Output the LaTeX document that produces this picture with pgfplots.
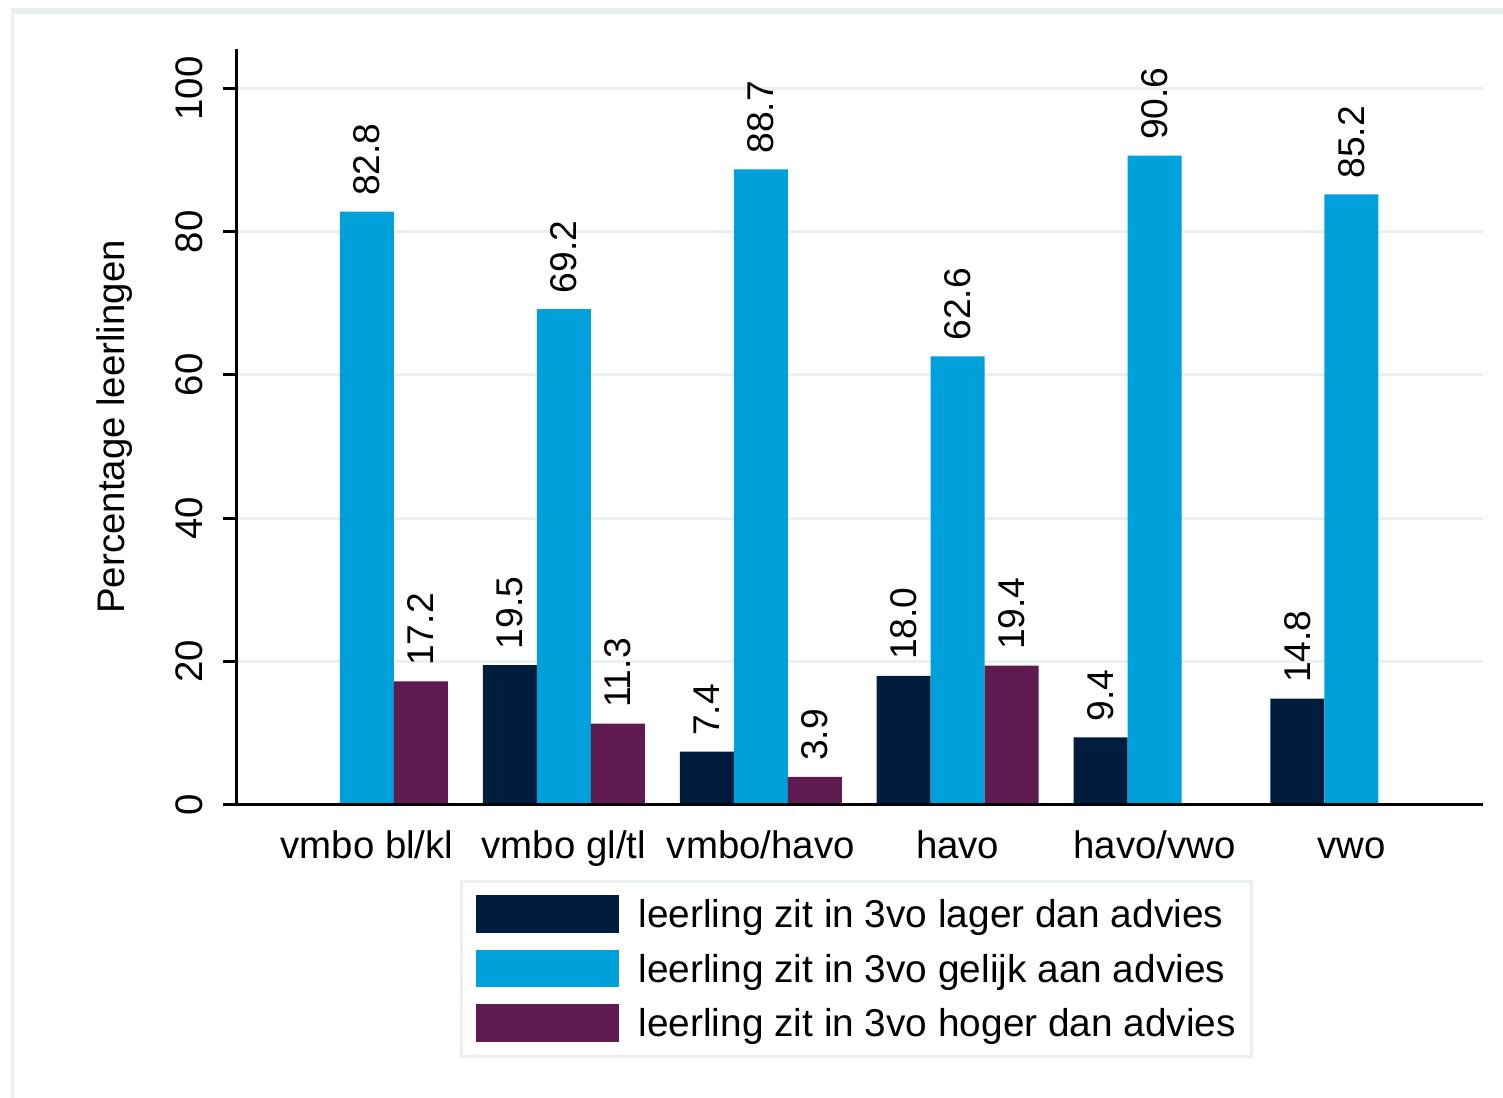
\documentclass[border=0pt]{standalone}
\usepackage{fontspec}
\setmainfont{Liberation Sans}
\usepackage{pgfplots}
\pgfplotsset{compat=1.18}
\definecolor{cdark}{HTML}{001D3D}
\definecolor{cblue}{HTML}{00A0DA}
\definecolor{cpurp}{HTML}{5F1A4F}
\definecolor{cgrid}{HTML}{EAF0F2}
\newcommand{\ff}{\fontsize{9.6}{11.5}\selectfont}
\pgfplotsset{patchlegend/.style={legend image code/.code={\fill[##1] (0pt,-4pt) rectangle (35.75pt,5.4pt);}}}
\begin{document}
\begin{tikzpicture}
\useasboundingbox (0,0) rectangle (375.75pt,-274.5pt);
\fill[cgrid] (2.75pt,-274.5pt) rectangle (3.5pt,-2pt);
\fill[cgrid] (2.75pt,-2pt) rectangle (375.75pt,-3.5pt);
\begin{axis}[
  at={(59.25pt,-201.175pt)}, anchor=south west,
  width=311.5pt, height=188.925pt, scale only axis,
  xmin=-0.660, xmax=5.668, ymin=0, ymax=105.5,
  clip=false,
  axis x line*=bottom, axis y line*=left,
  x axis line style={draw=none},
  y axis line style={line width=0.75pt},
  ybar=0pt, bar width=13.5pt,
  xtick={0,...,5},
  xticklabels={vmbo bl/kl, vmbo gl/tl, vmbo/havo, havo, havo/vwo, vwo},
  xtick style={draw=none},
  ytick={0,20,...,100},
  tick align=outside, major tick length=3.5pt,
  ytick style={line width=0.75pt, black},
  ymajorgrids, grid style={line width=0.75pt, cgrid},
  /pgf/number format/assume math mode=true,
  xticklabel style={font=\ff, anchor=base, inner sep=0pt, yshift=-9.875pt},
  yticklabel style={font=\ff, xshift=-5pt, rotate=90, anchor=base, inner sep=0pt},
  ylabel={Percentage leerlingen},
  every axis y label/.style={at={(rel axis cs:0,0.5)}, xshift=-28pt, rotate=90, anchor=base, inner sep=0pt, font=\ff},
  nodes near coords={\pgfmathprintnumber[fixed,fixed zerofill,precision=1,assume math mode=true]{\pgfplotspointmeta}},
  every node near coord/.append style={rotate=90, anchor=west, inner xsep=3.75pt, inner ysep=0pt, font=\fontsize{9.3}{11}\selectfont, text=black},
  legend cell align=left,
  legend style={at={(rel axis cs:0.1798,-0.101)}, anchor=north west, draw=cgrid, line width=0.75pt, outer sep=0pt, inner xsep=3.75pt, inner ysep=3.5pt, row sep=4pt, column sep=4.9pt, font=\fontsize{9.7}{11.5}\selectfont, nodes={inner sep=0pt}},
]
\addplot[fill=cdark, draw=none, patchlegend] coordinates {(1,19.5) (2,7.4) (3,18.0) (4,9.4) (5,14.8)};
\addplot[fill=cblue, draw=none, patchlegend] coordinates {(0,82.8) (1,69.2) (2,88.7) (3,62.6) (4,90.6) (5,85.2)};
\addplot[fill=cpurp, draw=none, patchlegend] coordinates {(0,17.2) (1,11.3) (2,3.9) (3,19.4)};
\legend{leerling zit in 3vo lager dan advies, leerling zit in 3vo gelijk aan advies, leerling zit in 3vo hoger dan advies}
\draw[line width=0.75pt] ([xshift=-3.5pt]rel axis cs:0,0) -- (rel axis cs:1,0);
\end{axis}
\end{tikzpicture}
\end{document}
